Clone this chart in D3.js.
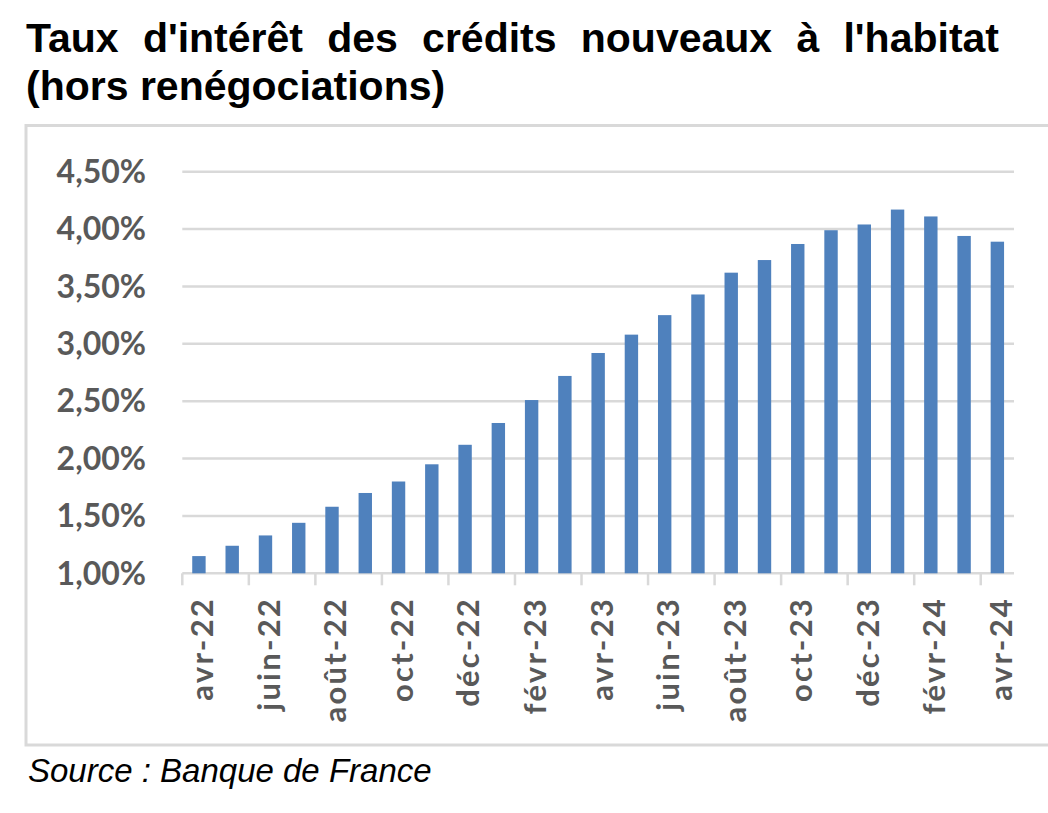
<!DOCTYPE html>
<html>
<head>
<meta charset="utf-8">
<script src="https://cdn.jsdelivr.net/npm/d3@7"></script>
<style>
  html, body { margin: 0; padding: 0; background: #ffffff; }
  svg { display: block; }
</style>
</head>
<body>
<svg id="chart" width="1048" height="813"></svg>
<script>
// ---- Data ----
const months = ["avr-22","mai-22","juin-22","juil-22","août-22","sept-22","oct-22","nov-22","déc-22",
  "janv-23","févr-23","mars-23","avr-23","mai-23","juin-23","juil-23","août-23","sept-23","oct-23",
  "nov-23","déc-23","janv-24","févr-24","mars-24","avr-24"];
const rates = [1.15, 1.24, 1.33, 1.44, 1.58, 1.70, 1.80, 1.95, 2.12,
  2.31, 2.51, 2.72, 2.92, 3.08, 3.25, 3.43, 3.62, 3.73, 3.87,
  3.99, 4.04, 4.17, 4.11, 3.94, 3.89];
const yTicks = [1.0, 1.5, 2.0, 2.5, 3.0, 3.5, 4.0, 4.5];
const titleLine1 = "Taux d'intérêt des crédits nouveaux à l'habitat";
const titleLine2 = "(hors renégociations)";
const sourceText = "Source : Banque de France";

// ---- Layout ----
const svg = d3.select("#chart");
const plot = { left: 182.3, right: 1014, top: 171.7, bottom: 573.3 };
const grey = "#d9d9d9";
const labelColor = "#595959";
const axisFont = "Lato, 'Open Sans', sans-serif";

// Frame
svg.append("rect")
  .attr("x", 26).attr("y", 125.5)
  .attr("width", 1060).attr("height", 619.5)
  .attr("fill", "none").attr("stroke", grey).attr("stroke-width", 3);

// Scales
const x = d3.scaleBand().domain(months).range([plot.left, plot.right]).paddingInner(0).paddingOuter(0);
const y = d3.scaleLinear().domain([1.0, 4.5]).range([plot.bottom, plot.top]);

// Gridlines
svg.append("g").selectAll("line").data(yTicks).join("line")
  .attr("x1", plot.left).attr("x2", plot.right)
  .attr("y1", d => y(d)).attr("y2", d => y(d))
  .attr("stroke", grey).attr("stroke-width", 2.5);

// Y labels
const fmt = d => d.toFixed(2).replace(".", ",") + "%";
svg.append("g").selectAll("text").data(yTicks).join("text")
  .attr("x", 146).attr("y", d => y(d)).attr("dy", "0.35em")
  .attr("text-anchor", "end")
  .attr("font-family", axisFont).attr("font-weight", 700).attr("font-size", 32)
  .attr("fill", labelColor)
  .text(fmt);

// Bars
const barW = 13.4;
svg.append("g").selectAll("rect").data(rates).join("rect")
  .attr("x", (d, i) => x(months[i]) + x.bandwidth() / 2 - barW / 2)
  .attr("width", barW)
  .attr("y", d => y(d))
  .attr("height", d => y(1.0) - y(d))
  .attr("fill", "#4f81bd");

// X axis ticks (every 2 categories, at band boundaries)
const tickIdx = months.map((m, i) => i).filter(i => i % 2 === 0);
svg.append("g").selectAll("line").data(tickIdx).join("line")
  .attr("x1", i => x(months[i])).attr("x2", i => x(months[i]))
  .attr("y1", plot.bottom).attr("y2", plot.bottom + 12)
  .attr("stroke", grey).attr("stroke-width", 2.5);

// X labels
svg.append("g").selectAll("text").data(tickIdx).join("text")
  .attr("transform", i => `translate(${x(months[i]) + x.bandwidth() / 2 + 3.5},597) rotate(-90)`)
  .attr("dy", "0.35em")
  .attr("text-anchor", "end")
  .attr("font-family", axisFont).attr("font-weight", 700).attr("font-size", 31)
  .attr("letter-spacing", 2.2)
  .attr("fill", labelColor)
  .text(i => months[i]);

// Title (line 1 justified)
const titleFont = "'Liberation Sans', Arial, sans-serif";
const t1 = svg.append("g");
const words = titleLine1.split(" ");
const wordNodes = words.map(w => t1.append("text")
  .attr("y", 52)
  .attr("font-family", titleFont).attr("font-weight", 700).attr("font-size", 41)
  .attr("fill", "#000").text(w));
const widths = wordNodes.map(n => n.node().getComputedTextLength());
const totalW = d3.sum(widths);
const startX = 26, endX = 999;
const gap = (endX - startX - totalW) / (words.length - 1);
let cx = startX;
wordNodes.forEach((n, i) => { n.attr("x", cx); cx += widths[i] + gap; });

svg.append("text")
  .attr("x", 26).attr("y", 100)
  .attr("font-family", titleFont).attr("font-weight", 700).attr("font-size", 41)
  .attr("fill", "#000").text(titleLine2);

// Source
svg.append("text")
  .attr("x", 28).attr("y", 782)
  .attr("font-family", titleFont).attr("font-style", "italic").attr("font-size", 33)
  .attr("fill", "#000").text(sourceText);
</script>
</body>
</html>
